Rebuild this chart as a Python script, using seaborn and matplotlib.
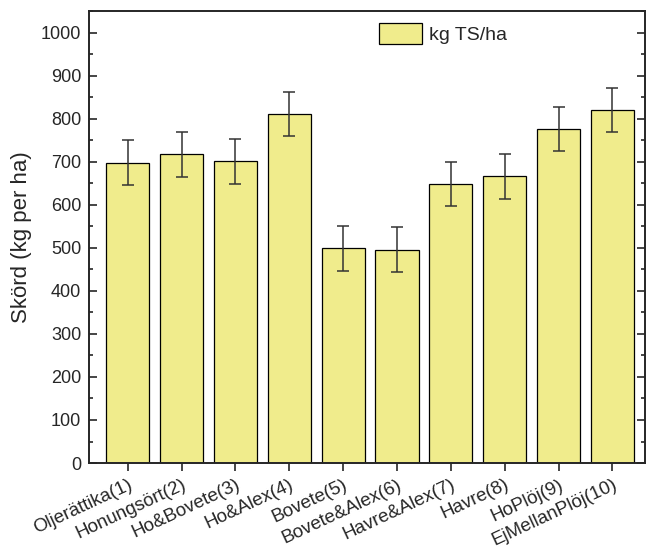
import pandas as pd
import matplotlib.pyplot as plt
import seaborn as sns
from matplotlib.ticker import MultipleLocator
from matplotlib.patches import Patch

# data
treatments = ['Oljerättika(1)', 'Honungsört(2)', 'Ho&Bovete(3)', 'Ho&Alex(4)',
              'Bovete(5)', 'Bovete&Alex(6)', 'Havre&Alex(7)', 'Havre(8)',
              'HoPlöj(9)', 'EjMellanPlöj(10)']
yield_kg = [698, 717, 701, 811, 499, 496, 648, 666, 776, 820]
yield_err = [52, 52, 52, 52, 52, 52, 52, 52, 52, 52]

df = pd.DataFrame({'Treatment': treatments, 'Yield': yield_kg, 'Err': yield_err})

sns.set_style('ticks')
plt.rcParams['font.family'] = ['Liberation Sans', 'DejaVu Sans']

fig = plt.figure(figsize=(6.46, 5.53), dpi=100)
ax = fig.add_axes([0.1385, 0.1627, 0.8595, 0.8173])

bar_color = '#F0EC8C'
sns.barplot(data=df, x='Treatment', y='Yield', color=bar_color, saturation=1,
            width=0.8, edgecolor='black', linewidth=0.9, errorbar=None, ax=ax)
ax.errorbar(range(len(df)), df['Yield'], yerr=df['Err'], fmt='none',
            ecolor='#333333', elinewidth=1.1, capsize=4.5, capthick=1.1)

ax.set_xlim(-0.71, 9.6)
ax.set_ylim(0, 1050)
ax.yaxis.set_major_locator(MultipleLocator(100))
ax.yaxis.set_minor_locator(MultipleLocator(50))
ax.tick_params(axis='y', which='major', direction='in', length=6, width=1.2,
               labelsize=13, right=True, pad=6)
ax.tick_params(axis='y', which='minor', direction='in', length=3, width=1.2,
               right=True)
ax.tick_params(axis='x', direction='out', length=6, width=1.2, labelsize=13.5)
for lbl in ax.get_xticklabels():
    lbl.set_rotation(25)
    lbl.set_ha('right')
    lbl.set_rotation_mode('anchor')

for sp in ax.spines.values():
    sp.set_linewidth(1.4)
    sp.set_visible(True)

ax.set_xlabel('')
ax.set_ylabel('Skörd (kg per ha)', fontsize=16, labelpad=6)

handle = Patch(facecolor=bar_color, edgecolor='black', linewidth=0.9)
ax.legend([handle], ['kg TS/ha'], loc='upper left', bbox_to_anchor=(0.49, 1.012),
          frameon=False, fontsize=14, handlelength=2.2, handleheight=1.3,
          handletextpad=0.35)

plt.savefig('out.png', dpi=100)
